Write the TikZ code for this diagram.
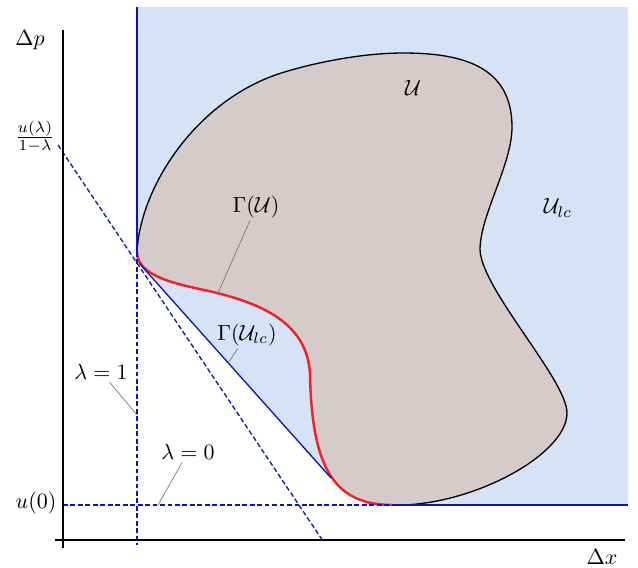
\documentclass[tikz,border=0pt]{standalone}
\usepackage{amsmath,amssymb}
\usepackage{tikz}
\usetikzlibrary{calc}
\definecolor{hullblue}{RGB}{214,226,246}
\definecolor{setgrey}{RGB}{212,203,202}
\definecolor{lineblue}{RGB}{10,20,185}
\definecolor{gammared}{RGB}{250,30,35}

\begin{document}
\begin{tikzpicture}[x=0.16mm, y=-0.16mm,
    axis/.style={line width=0.9pt, black},
    bnd/.style={line width=0.6pt, lineblue},
    bdash/.style={line width=0.6pt, lineblue, dash pattern=on 2.2pt off 1.2pt},
    leader/.style={line width=0.3pt, black!55},
    lbl/.style={inner sep=1pt}
]
    \useasboundingbox (0,0) rectangle (638,567);
    \coordinate (touch) at (137,252);
    \coordinate (tang) at (331,478);
    \coordinate (foot) at (393,505);

    % U_lc
    \fill[hullblue] (137,7) -- (touch) -- (139,263) -- (tang)
        .. controls (345,492) and (365,503) .. (foot) -- (628,505) -- (628,7) -- cycle;

    % U
    \filldraw[fill=setgrey, draw=black, line width=0.6pt] (foot)
        .. controls (470,507) and (567,455) .. (567,413)
        .. controls (567,380) and (482,290) .. (480,250)
        .. controls (480,215) and (512,165) .. (512,127)
        .. controls (512,65) and (460,53) .. (403,53)
        .. controls (350,53) and (290,69) .. (270,77)
        .. controls (191,108) and (140,190) .. (touch)
        .. controls (137,280) and (190,286) .. (217,293)
        .. controls (265,305) and (308,325) .. (310,375)
        .. controls (312,470) and (335,505) .. (foot) -- cycle;
    % Gamma(U)
    \draw[gammared, line width=1.1pt] (touch)
        .. controls (137,280) and (190,286) .. (217,293)
        .. controls (265,305) and (308,325) .. (310,375)
        .. controls (312,470) and (335,505) .. (foot);

    % boundaries
    \draw[bnd] (137,7) -- (touch);
    \draw[bdash] (touch) -- (137,545);
    \draw[bnd] (139,263) -- (tang);
    \draw[bnd] (foot) -- (628,505);
    \draw[bdash] (63,505) -- (foot);
    \draw[bdash] (58,145) -- (323,541);

    % axes
    \draw[axis] (63,30) -- (63,548);
    \draw[axis] (55,540) -- (625,540);

    \node[lbl] (dp) at (30,40) {$\Delta p$};
    \node[lbl] (dx) at (602,557) {$\Delta x$};
    \node[lbl] (ulam) at (35,137) {$\frac{u(\lambda)}{1-\lambda}$};
    \node[lbl] (uzero) at (36,503) {$u(0)$};
    \node[lbl] (setU) at (413,88) {$\mathcal{U}$};
    \node[lbl] (setUlc) at (558,208) {$\mathcal{U}_{lc}$};

    \node[lbl] (lamone) at (101,372) {$\lambda=1$};
    \node[lbl] (lamzero) at (188,452) {$\lambda=0$};
    \node[lbl] (gamU) at (256,207) {$\Gamma(\mathcal{U})$};
    \node[lbl] (gamUlc) at (247,335) {$\Gamma(\mathcal{U}_{lc})$};

    \coordinate (lamonept) at (137,415);
    \coordinate (lamzeropt) at (158,505);
    \coordinate (gamUpt) at (218,293);
    \coordinate (gamUlcpt) at (228,363);
    \draw[leader] (lamone) -- (lamonept);
    \draw[leader] (lamzero) -- (lamzeropt);
    \draw[leader] (gamU) -- (gamUpt);
    \draw[leader] (gamUlc) -- (gamUlcpt);
\end{tikzpicture}
\end{document}
